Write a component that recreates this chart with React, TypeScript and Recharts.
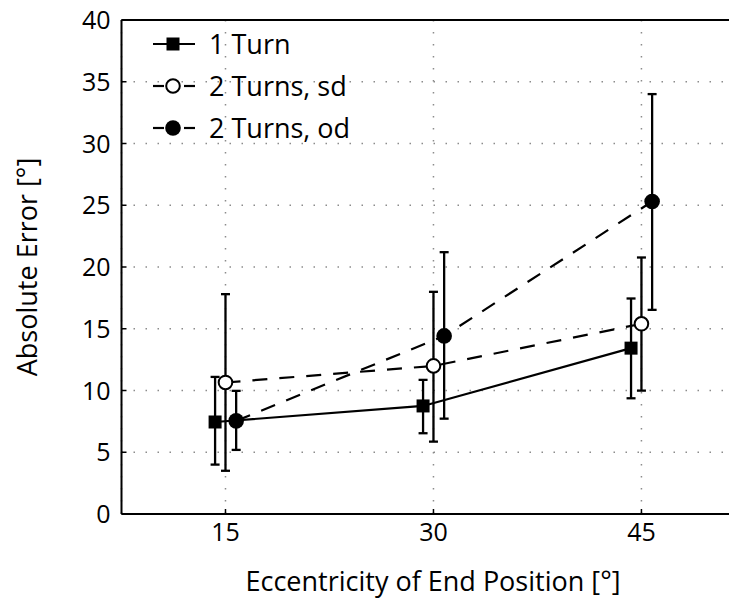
import React from 'react';
import { ScatterChart, Scatter, XAxis, YAxis, CartesianGrid, ErrorBar, Legend, Label } from 'recharts';

// ---- data ----
const positions = [15, 30, 45];
const xTicks = [15, 30, 45];
const yTicks = [0, 5, 10, 15, 20, 25, 30, 35, 40];
const seriesNames = ['1 Turn', '2 Turns, sd', '2 Turns, od'];

const oneTurnMean = [7.45, 8.75, 13.43];
const oneTurnLower = [4.0, 6.54, 9.37];
const oneTurnUpper = [11.1, 10.86, 17.45];

const sdMean = [10.65, 11.99, 15.4];
const sdLower = [3.5, 5.86, 9.99];
const sdUpper = [17.8, 17.99, 20.77];

const odMean = [7.54, 14.42, 25.3];
const odLower = [5.19, 7.72, 16.53];
const odUpper = [9.97, 21.2, 34.0];

// horizontal dodge of each series around the nominal position (axis units)
const dodges = [-0.75, 0, 0.77];

const FONT = '"Open Sans", "Noto Sans", sans-serif';

function build(mean: number[], lower: number[], upper: number[], dodge: number) {
  return positions.map((p, i) => ({
    x: p + dodge,
    y: mean[i],
    err: [mean[i] - lower[i], upper[i] - mean[i]],
  }));
}

const oneTurnData = build(oneTurnMean, oneTurnLower, oneTurnUpper, dodges[0]);
const sdData = build(sdMean, sdLower, sdUpper, dodges[1]);
const odData = build(odMean, odLower, odUpper, dodges[2]);

const SquareShape = (p: any) => (
  <rect x={p.cx - 6.5} y={p.cy - 6.5} width={13} height={13} fill="#000" />
);
const OpenCircle = (p: any) => (
  <circle cx={p.cx} cy={p.cy} r={6.8} fill="#fff" stroke="#000" strokeWidth={2} />
);
const FilledCircle = (p: any) => <circle cx={p.cx} cy={p.cy} r={7.8} fill="#000" />;

const XTick = (p: any) => (
  <g>
    <line x1={p.x} x2={p.x} y1={p.y} y2={p.y - 5} stroke="#000" strokeWidth={1.5} />
    <text x={p.x} y={p.y + 27} textAnchor="middle" fontSize={25} fontFamily={FONT} fill="#000">
      {p.payload.value}
    </text>
  </g>
);

const YTick = (p: any) => (
  <g>
    <line x1={p.x} x2={p.x + 5} y1={p.y} y2={p.y} stroke="#000" strokeWidth={1.5} />
    <text x={p.x - 11} y={p.y + 9} textAnchor="end" fontSize={25} fontFamily={FONT} fill="#000">
      {p.payload.value}
    </text>
  </g>
);

const XTitle = (p: any) => {
  const vb = p.viewBox;
  return (
    <text x={vb.x + vb.width / 2 + 3} y={vb.y + 77} textAnchor="middle" fontSize={27} fontFamily={FONT} fill="#000">
      Eccentricity of End Position [°]
    </text>
  );
};

const YTitle = (p: any) => {
  const vb = p.viewBox;
  const cx = 37;
  const cy = vb.y + vb.height / 2;
  return (
    <text x={cx} y={cy} transform={`rotate(-90, ${cx}, ${cy})`} textAnchor="middle" fontSize={27} fontFamily={FONT} fill="#000">
      Absolute Error [°]
    </text>
  );
};

const LegendContent = () => {
  const rows = [44, 86, 128];
  return (
    <svg width={420} height={160} style={{ display: 'block' }}>
      {seriesNames.map((name, i) => {
        const y = rows[i];
        return (
          <g key={name}>
            {i === 0 ? (
              <line x1={153} x2={195} y1={y} y2={y} stroke="#000" strokeWidth={2.2} />
            ) : (
              <g>
                <line x1={153} x2={164} y1={y} y2={y} stroke="#000" strokeWidth={2.2} />
                <line x1={184} x2={195} y1={y} y2={y} stroke="#000" strokeWidth={2.2} />
              </g>
            )}
            {i === 0 && <rect x={173 - 6.5} y={y - 6.5} width={13} height={13} fill="#000" />}
            {i === 1 && <circle cx={173} cy={y} r={6.8} fill="#fff" stroke="#000" strokeWidth={2} />}
            {i === 2 && <circle cx={173} cy={y} r={7.8} fill="#000" />}
            <text x={209} y={y + 10} fontSize={27} fontFamily={FONT} fill="#000">
              {name}
            </text>
          </g>
        );
      })}
    </svg>
  );
};

export default function App() {
  return (
    <div style={{ width: 737, height: 601, overflow: 'hidden', position: 'relative', marginTop: -8, marginLeft: -8 }}>
      <ScatterChart width={738.5} height={601} margin={{ top: 20, right: 0, bottom: 0, left: 0 }}>
        <CartesianGrid stroke="#8c8c8c" strokeWidth={1.5} strokeDasharray="1.5 10.5" />
        <XAxis
          dataKey="x"
          type="number"
          domain={[7.5, 52]}
          ticks={xTicks}
          allowDataOverflow
          height={87}
          axisLine={{ stroke: '#000', strokeWidth: 2 }}
          tickLine={false}
          tickSize={0}
          tickMargin={0}
          tick={XTick}
        >
          <Label content={XTitle} />
        </XAxis>
        <XAxis
          xAxisId="top"
          orientation="top"
          mirror
          type="number"
          domain={[7.5, 52]}
          ticks={xTicks}
          allowDataOverflow
          height={1}
          axisLine={{ stroke: '#000', strokeWidth: 2 }}
          tickLine={{ stroke: '#000', strokeWidth: 1.5 }}
          tickSize={5}
          tick={() => <g />}
        />
        <YAxis
          dataKey="y"
          type="number"
          domain={[0, 40]}
          ticks={yTicks}
          allowDataOverflow
          width={121.5}
          axisLine={{ stroke: '#000', strokeWidth: 2 }}
          tickLine={false}
          tickSize={0}
          tickMargin={0}
          tick={YTick}
        >
          <Label content={YTitle} />
        </YAxis>
        <Legend
          layout="vertical"
          align="center"
          verticalAlign="middle"
          wrapperStyle={{ left: 0, top: 0, width: 420, height: 160 }}
          content={LegendContent}
        />
        <Scatter
          name={seriesNames[0]}
          data={oneTurnData}
          fill="#000"
          line={{ stroke: '#000', strokeWidth: 2.2 }}
          lineType="joint"
          shape={SquareShape}
          isAnimationActive={false}
        >
          <ErrorBar dataKey="err" direction="y" width={4.5} stroke="#000" strokeWidth={2.3} isAnimationActive={false} />
        </Scatter>
        <Scatter
          name={seriesNames[1]}
          data={sdData}
          fill="#000"
          line={{ stroke: '#000', strokeWidth: 2.2, strokeDasharray: '15 12' }}
          lineType="joint"
          shape={OpenCircle}
          isAnimationActive={false}
        >
          <ErrorBar dataKey="err" direction="y" width={4.5} stroke="#000" strokeWidth={2.3} isAnimationActive={false} />
        </Scatter>
        <Scatter
          name={seriesNames[2]}
          data={odData}
          fill="#000"
          line={{ stroke: '#000', strokeWidth: 2.2, strokeDasharray: '15 12' }}
          lineType="joint"
          shape={FilledCircle}
          isAnimationActive={false}
        >
          <ErrorBar dataKey="err" direction="y" width={4.5} stroke="#000" strokeWidth={2.3} isAnimationActive={false} />
        </Scatter>
      </ScatterChart>
    </div>
  );
}
